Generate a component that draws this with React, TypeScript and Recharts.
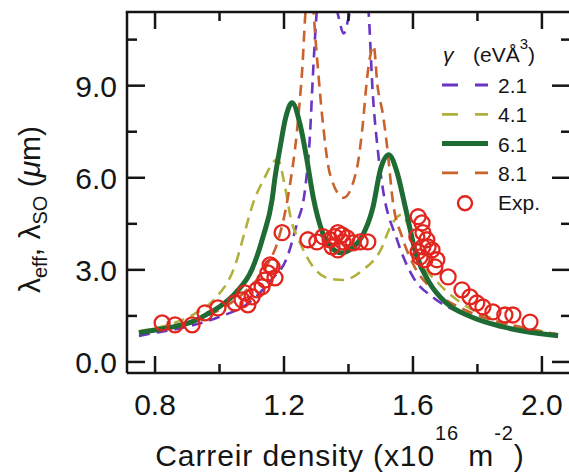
import React from "react";
import { ComposedChart, Line, Scatter, XAxis, YAxis, Legend, Label } from "recharts";

// model curves, one per gamma value (eVÅ^3)
const purpleX = [0.75, 0.8, 0.9, 1.0, 1.09, 1.16, 1.21, 1.24, 1.265, 1.28, 1.29, 1.3, 1.32, 1.345, 1.37, 1.385, 1.4, 1.425, 1.445, 1.463, 1.475, 1.49, 1.505, 1.55, 1.6, 1.66, 1.75, 1.84, 1.95, 2.05];
const purpleY = [0.85, 0.95, 1.15, 1.47, 1.92, 2.67, 3.42, 4.5, 5.6, 7.3, 9.4, 11.2, 13.0, 12.5, 11.2, 10.7, 11.2, 12.5, 13.0, 11.3, 8.8, 7.0, 5.75, 4.0, 2.77, 2.12, 1.6, 1.27, 1.0, 0.85];

const oliveX = [0.75, 0.8, 0.86, 0.92, 0.98, 1.05, 1.08, 1.105, 1.135, 1.18, 1.205, 1.22, 1.25, 1.29, 1.333, 1.383, 1.445, 1.5, 1.53, 1.565, 1.59, 1.612, 1.678, 1.75, 1.85, 1.95, 2.05];
const oliveY = [1.0, 1.1, 1.27, 1.55, 2.0, 3.2, 4.3, 5.2, 5.9, 6.6, 5.6, 4.73, 3.88, 3.1, 2.74, 2.67, 3.0, 3.65, 4.4, 4.8, 4.3, 3.55, 2.58, 1.92, 1.4, 1.1, 0.9];

const greenX = [0.75, 0.8, 0.86, 0.92, 0.96, 1.0, 1.05, 1.1, 1.135, 1.163, 1.172, 1.188, 1.205, 1.225, 1.25, 1.27, 1.29, 1.32, 1.35, 1.38, 1.41, 1.44, 1.475, 1.5, 1.525, 1.55, 1.575, 1.61, 1.65, 1.7, 1.78, 1.88, 2.05];
const greenY = [0.95, 1.04, 1.15, 1.33, 1.55, 1.8, 2.25, 3.0, 4.08, 5.28, 6.0, 7.0, 7.95, 8.44, 7.73, 6.65, 5.4, 4.2, 3.7, 3.55, 3.7, 4.05, 5.0, 6.3, 6.75, 6.2, 5.1, 3.5, 2.6, 1.95, 1.47, 1.14, 0.85];

const orangeX = [0.75, 0.8, 0.9, 1.0, 1.08, 1.15, 1.18, 1.215, 1.24, 1.256, 1.27, 1.283, 1.3, 1.318, 1.343, 1.385, 1.426, 1.442, 1.46, 1.478, 1.49, 1.507, 1.52, 1.538, 1.566, 1.6, 1.674, 1.75, 1.85, 1.95, 2.05];
const orangeY = [0.95, 1.05, 1.3, 1.7, 2.3, 3.2, 3.9, 5.55, 7.5, 9.45, 11.8, 12.2, 10.2, 8.05, 6.1, 5.35, 6.3, 7.5, 9.45, 10.3, 9.0, 8.05, 7.0, 5.2, 4.08, 3.2, 2.25, 1.75, 1.35, 1.1, 0.9];

// experiment
const expX = [0.822, 0.862, 0.915, 0.955, 0.995, 1.048, 1.07, 1.079, 1.088, 1.101, 1.116, 1.132, 1.141, 1.15, 1.163, 1.172, 1.157, 1.194,
  1.274, 1.302, 1.321, 1.343, 1.358, 1.367, 1.38, 1.383, 1.367, 1.395, 1.414, 1.436, 1.46, 1.349,
  1.616, 1.628, 1.631, 1.643, 1.631, 1.647, 1.659, 1.622, 1.637, 1.674, 1.668, 1.709, 1.752, 1.777, 1.798, 1.817, 1.848, 1.885, 1.91, 1.963, 1.612, 1.616];
const expY = [1.27, 1.21, 1.21, 1.6, 1.76, 1.92, 2.02, 2.25, 1.86, 2.12, 2.35, 2.45, 2.67, 2.9, 3.1, 2.74, 3.16, 4.21,
  3.98, 3.91, 4.08, 3.98, 4.08, 4.21, 4.14, 3.91, 3.65, 4.04, 3.88, 3.91, 3.91, 3.75,
  4.73, 4.53, 4.21, 3.98, 3.75, 3.75, 3.65, 3.42, 3.33, 3.33, 3.1, 2.77, 2.35, 2.12, 1.92, 1.79, 1.63, 1.53, 1.53, 1.3, 4.08, 3.59];

const xTicks = [0.8, 1.0, 1.2, 1.4, 1.6, 1.8, 2.0];
const xLabelTicks = [0.8, 1.2, 1.6, 2.0];
const yTicks = [0, 1.5, 3, 4.5, 6, 7.5, 9, 10.5];
const yLabelTicks = [0, 3, 6, 9];
const xDomain = [0.713, 2.084];
const yDomain = [-0.36, 11.4];

// layout
const CHART_W = 569;
const CHART_H = 473;
const M_TOP = 12;
const Y_AXIS_W = 127;
const X_AXIS_H = 100;
const PLOT_W = CHART_W - Y_AXIS_W;
const PLOT_H = CHART_H - M_TOP - X_AXIS_H;

const FONT = "'Liberation Sans', Arial, Helvetica, sans-serif";
const INK = "#151515";

const zip = (xs: number[], ys: number[]) => xs.map((x, i) => ({ x, y: ys[i] }));

const series = [
  { name: "2.1", color: "#6a35c4", width: 2.6, dash: "11 7", data: zip(purpleX, purpleY) },
  { name: "4.1", color: "#b1b03c", width: 2.6, dash: "11 7", data: zip(oliveX, oliveY) },
  { name: "8.1", color: "#c9622b", width: 2.6, dash: "11 7", data: zip(orangeX, orangeY) },
];
const green = { name: "6.1", color: "#1f6b34", width: 5, data: zip(greenX, greenY) };
const expData = zip(expX, expY);
const RED = "#e2261f";

const isIn = (arr: number[], v: number) => arr.some((a) => Math.abs(a - v) < 1e-6);

function BottomTick({ x, y, payload }: any) {
  const major = isIn(xLabelTicks, payload.value);
  return (
    <g>
      <line x1={x} x2={x} y1={y} y2={y - (major ? 17 : 9)} stroke={INK} strokeWidth={2.5} />
      {major && (
        <text x={x} y={y + 42} textAnchor="middle" fontSize={30} fontFamily={FONT} fill={INK}>
          {payload.value.toFixed(1)}
        </text>
      )}
    </g>
  );
}

function LeftTick({ x, y, payload }: any) {
  const major = isIn(yLabelTicks, payload.value);
  return (
    <g>
      <line x1={x} x2={x + (major ? 18 : 10)} y1={y} y2={y} stroke={INK} strokeWidth={2.5} />
      {major && (
        <text x={x - 10} y={y + 11} textAnchor="end" fontSize={30} fontFamily={FONT} fill={INK}>
          {payload.value.toFixed(1)}
        </text>
      )}
    </g>
  );
}

function XTitle({ viewBox }: any) {
  const cx = viewBox.x + viewBox.width / 2 - 8;
  const by = viewBox.y + 93;
  return (
    <text x={cx} y={by} textAnchor="middle" fontSize={30} letterSpacing={0.9} fontFamily={FONT} fill={INK}>
      Carreir density (x10
      <tspan fontSize={20} dy={-26}>16</tspan>
      <tspan dy={26}> m</tspan>
      <tspan fontSize={20} dy={-26}>-2</tspan>
      <tspan dy={26}>)</tspan>
    </text>
  );
}

function YTitle({ viewBox }: any) {
  const ax = viewBox.x + 40;
  const ay = viewBox.y + viewBox.height / 2 + 17;
  return (
    <text x={ax} y={ay} textAnchor="middle" fontSize={30} fontFamily={FONT} fill={INK} transform={`rotate(-90, ${ax}, ${ay})`}>
      λ
      <tspan fontSize={20} dy={7}>eff</tspan>
      <tspan dy={-7}>, λ</tspan>
      <tspan fontSize={20} dy={7}>SO</tspan>
      <tspan dy={-7}> (</tspan>
      <tspan fontStyle="italic">μ</tspan>
      <tspan>m)</tspan>
    </text>
  );
}

// frame edges mirrored on top and right, same linear mapping as the axes
const fx = (v: number) => Y_AXIS_W + ((v - xDomain[0]) / (xDomain[1] - xDomain[0])) * PLOT_W;
const fy = (v: number) => M_TOP + ((yDomain[1] - v) / (yDomain[1] - yDomain[0])) * PLOT_H;

function Overlay() {
  const rows = [series[0], series[1], green, series[2]];
  const lx = 436;
  const ly = 28;
  const rowY = (i: number) => ly + 65 + i * 29.3;
  return (
    <svg width={CHART_W} height={CHART_H} style={{ display: "block" }}>
      {/* top edge and mirrored ticks */}
      <line x1={Y_AXIS_W - 1.25} x2={CHART_W} y1={M_TOP} y2={M_TOP} stroke={INK} strokeWidth={2.5} />
      {xTicks.map((t) => (
        <line key={`t${t}`} x1={fx(t)} x2={fx(t)} y1={M_TOP} y2={M_TOP + (isIn(xLabelTicks, t) ? 17 : 9)} stroke={INK} strokeWidth={2.5} />
      ))}
      {yTicks.map((t) => (
        <line key={`r${t}`} x1={CHART_W} x2={CHART_W - (isIn(yLabelTicks, t) ? 17 : 8)} y1={fy(t)} y2={fy(t)} stroke={INK} strokeWidth={2.5} />
      ))}

      {/* legend */}
      <text x={lx + 7} y={ly + 34} fontSize={21} fontFamily={FONT} fill={INK} fontStyle="italic">γ</text>
      <text x={lx + 37} y={ly + 34} fontSize={21} fontFamily={FONT} fill={INK}>
        (eVÅ<tspan fontSize={15} dy={-13}>3</tspan>
        <tspan dy={13}>)</tspan>
      </text>
      {rows.map((s: any, i) => (
        <g key={s.name}>
          <line x1={lx + 6} x2={lx + 52} y1={rowY(i) - 8} y2={rowY(i) - 8} stroke={s.color} strokeWidth={s.dash ? 2.8 : 5} strokeDasharray={s.dash ? "16 17" : undefined} />
          <text x={lx + 62} y={rowY(i)} fontSize={21} fontFamily={FONT} fill={INK}>{s.name}</text>
        </g>
      ))}
      <circle cx={lx + 29} cy={rowY(4) - 7} r={7} fill="none" stroke={RED} strokeWidth={2.4} />
      <text x={lx + 62} y={rowY(4)} fontSize={21} fontFamily={FONT} fill={INK}>Exp.</text>
    </svg>
  );
}

const ring = (p: any) => <circle cx={p.cx} cy={p.cy} r={7.5} fill="none" stroke={RED} strokeWidth={2.3} />;

export default function App() {
  return (
    <div style={{ position: "absolute", left: 0, top: 0, width: CHART_W, height: CHART_H, background: "#fff" }}>
      <ComposedChart width={CHART_W} height={CHART_H} margin={{ top: M_TOP, right: 0, bottom: 0, left: 0 }}>
        <XAxis
          dataKey="x"
          type="number"
          domain={xDomain}
          ticks={xTicks}
          interval={0}
          allowDataOverflow
          height={X_AXIS_H}
          tickSize={0}
          tickMargin={0}
          tickLine={false}
          tick={<BottomTick />}
          axisLine={{ stroke: INK, strokeWidth: 2.5 }}
        >
          <Label content={<XTitle />} />
        </XAxis>
        <YAxis
          dataKey="y"
          type="number"
          domain={yDomain}
          ticks={yTicks}
          interval={0}
          allowDataOverflow
          width={Y_AXIS_W}
          tickSize={0}
          tickMargin={0}
          tickLine={false}
          tick={<LeftTick />}
          axisLine={{ stroke: INK, strokeWidth: 2.5 }}
        >
          <Label content={<YTitle />} />
        </YAxis>
        {series.map((s) => (
          <Line
            key={s.name}
            data={s.data}
            dataKey="y"
            name={s.name}
            type="monotone"
            stroke={s.color}
            strokeWidth={s.width}
            strokeDasharray={s.dash}
            dot={false}
            activeDot={false}
            isAnimationActive={false}
          />
        ))}
        <Scatter data={expData} dataKey="y" name="Exp." shape={ring} isAnimationActive={false} />
        <Line
          data={green.data}
          dataKey="y"
          name={green.name}
          type="monotone"
          stroke={green.color}
          strokeWidth={green.width}
          dot={false}
          activeDot={false}
          isAnimationActive={false}
        />
        <Legend
          layout="vertical"
          align="center"
          verticalAlign="middle"
          content={<Overlay />}
          wrapperStyle={{ top: 0, left: 0, width: CHART_W, height: CHART_H, pointerEvents: "none" }}
        />
      </ComposedChart>
    </div>
  );
}
